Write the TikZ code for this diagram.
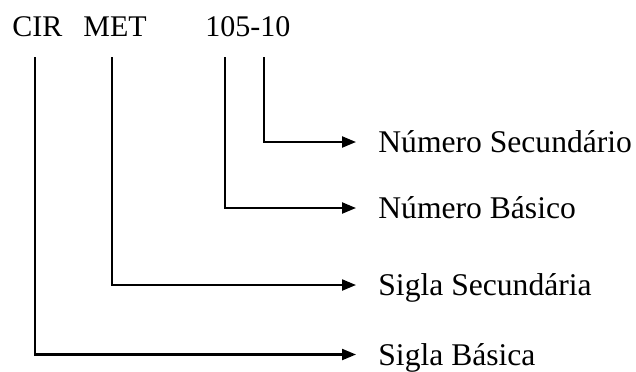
\documentclass[tikz,border=0pt]{standalone}
\usepackage{fontspec}
\setmainfont{Liberation Serif}
\usetikzlibrary{arrows.meta}
\begin{document}
\begin{tikzpicture}[x=0.5pt,y=-0.5pt,
  code/.style={anchor=base west,inner sep=0pt,font=\fontsize{15}{18}\selectfont},
  label/.style={anchor=base west,inner sep=0pt,font=\fontsize{15.8}{19}\selectfont},
  arr/.style={line width=1.1pt,-{Triangle[length=7pt,width=5.5pt]}}]
\useasboundingbox (0,0) rectangle (636,371);

% code parts
\node[code] (cir) at (12,36) {CIR};
\node[code] (met) at (83,36) {MET};
\node[code] (num) at (205,36) {105-10};

% starting points under each part
\coordinate (s1) at (35,57);
\coordinate (s2) at (112,57);
\coordinate (s3) at (225,57);
\coordinate (s4) at (264,57);

% arrow ends
\coordinate (e4) at (356,142);
\coordinate (e3) at (356,208);
\coordinate (e2) at (356,285);
\coordinate (e1) at (356,354.5);

% labels
\node[label] (l4) at (378,152.5) {Número Secundário};
\node[label] (l3) at (378,218.5) {Número Básico};
\node[label] (l2) at (378,295.5) {Sigla Secundária};
\node[label] (l1) at (378,365) {Sigla Básica};

% connectors
\draw[arr] (s4) |- (e4);
\draw[arr] (s3) |- (e3);
\draw[arr] (s2) |- (e2);
\draw[arr] (s1) |- (e1);
\end{tikzpicture}
\end{document}
